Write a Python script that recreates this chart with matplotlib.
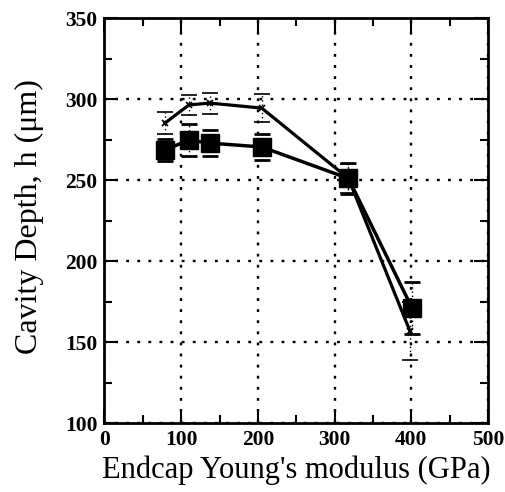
import matplotlib
matplotlib.use("Agg")
import matplotlib.pyplot as plt
from matplotlib.ticker import MultipleLocator

# Data
modulus_sq = [79, 110, 137, 205, 318, 401]
depth_sq = [268.5, 274.7, 272.8, 270.4, 251.0, 171.0]
err_sq = [7, 10, 8, 8, 9.5, 16]

modulus_up = [79, 110, 137, 205, 318, 398]
depth_up = [285.2, 296.3, 297.5, 294.4, 251.0, 157.0]
err_up = [7, 6, 6.5, 8.5, 9, 18]

plt.rcParams['font.family'] = ['Liberation Serif', 'DejaVu Serif']

fig = plt.figure(figsize=(5.06, 4.92), dpi=100)
ax = fig.add_axes([0.2065, 0.1402, 0.7579, 0.8232])

ax.set_xlim(0, 500)
ax.set_ylim(100, 350)

# grid
ax.grid(True, which='major', color='black', linestyle=(0, (1.2, 3.5)), linewidth=1.7)
ax.set_axisbelow(True)

# upper series (line only with error bars)
eb = ax.errorbar(modulus_up, depth_up, yerr=err_up, color='black', lw=2.3,
                 elinewidth=1.0, capsize=6, capthick=2.0, marker='x', ms=5, mew=1.2)
eb[-1][0].set_linestyle((0, (1, 2)))

# square series
eb2 = ax.errorbar(modulus_sq, depth_sq, yerr=err_sq, color='black', lw=2.5,
                  marker='s', ms=13, elinewidth=1.0, capsize=6, capthick=2.0)
eb2[-1][0].set_linestyle((0, (1, 2)))

ax.xaxis.set_major_locator(MultipleLocator(100))
ax.xaxis.set_minor_locator(MultipleLocator(50))
ax.yaxis.set_major_locator(MultipleLocator(50))
ax.yaxis.set_minor_locator(MultipleLocator(25))

ax.tick_params(which='both', direction='in', top=True, right=True, width=1.5,
               labelsize=15.5)
ax.tick_params(which='major', length=10)
ax.tick_params(which='minor', length=6)
ax.tick_params(axis='x', pad=5)
ax.tick_params(axis='y', pad=5)
for lab in ax.get_xticklabels() + ax.get_yticklabels():
    lab.set_fontweight('bold')

for s in ax.spines.values():
    s.set_linewidth(2.0)

ax.set_xlabel("Endcap Young's modulus (GPa)", fontsize=22)
ax.set_ylabel("Cavity Depth, h (\u03bcm)", fontsize=23)
ax.xaxis.set_label_coords(0.5, -0.08)
ax.yaxis.set_label_coords(-0.158, 0.51)

fig.savefig("out.png", dpi=100)
